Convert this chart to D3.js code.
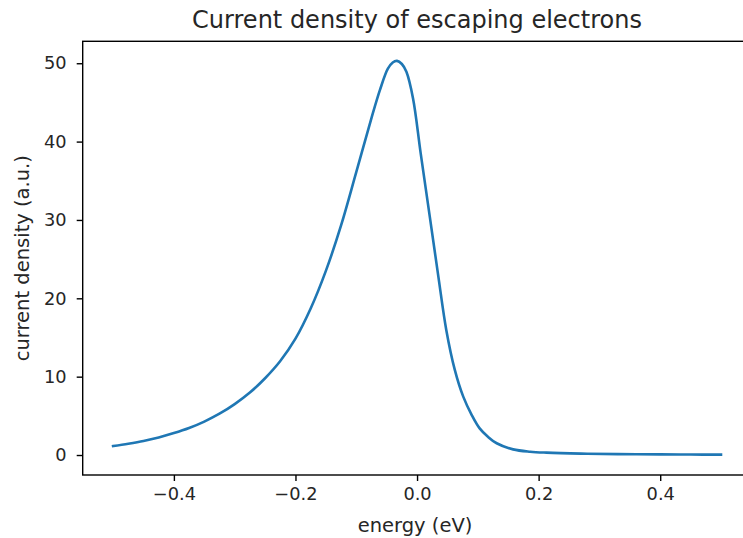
<!DOCTYPE html>
<html>
<head>
<meta charset="utf-8">
<script src="https://cdn.jsdelivr.net/npm/d3@7"></script>
<style>
  body { margin: 0; background: #fff; }
  text { font-family: "DejaVu Sans", sans-serif; fill: #262626; }
</style>
</head>
<body>
<script>
// energy in eV and current density in a.u.
var energy = [-0.5, -0.475, -0.45, -0.425, -0.4, -0.375, -0.35, -0.325, -0.3, -0.275,
  -0.25, -0.225, -0.2, -0.175, -0.15, -0.125, -0.1, -0.075, -0.061, -0.048,
  -0.04, -0.033, -0.025, -0.0175, -0.0066, 0.006, 0.021, 0.035, 0.048, 0.062,
  0.076, 0.09, 0.103, 0.117, 0.131, 0.158, 0.186, 0.213, 0.27, 0.33,
  0.4, 0.45, 0.5];
var density = [1.15, 1.45, 1.8, 2.25, 2.8, 3.45, 4.27, 5.27, 6.5, 7.97,
  9.8, 12.0, 14.85, 18.7, 23.5, 29.3, 36.1, 43.0, 46.6, 49.3,
  50.1, 50.3, 49.9, 48.9, 45.5, 38.5, 30.4, 22.8, 16.0, 10.9,
  7.45, 5.1, 3.4, 2.3, 1.5, 0.72, 0.42, 0.3, 0.18, 0.12,
  0.08, 0.06, 0.05];
var xTicks = [-0.4, -0.2, 0.0, 0.2, 0.4];
var yTicks = [0, 10, 20, 30, 40, 50];

var width = 743, height = 538;
// plot box (right edge falls outside the picture, as in the reference)
var boxLeft = 82.7, boxRight = 751.4, boxTop = 41.3, boxBottom = 475;

var svg = d3.select("body").append("svg")
  .attr("width", width).attr("height", height);

var x = d3.scaleLinear().domain([-0.55, 0.55]).range([boxLeft, boxRight]);
var y = d3.scaleLinear().domain([-2.55, 52.8]).range([boxBottom, boxTop]);

var points = energy.map(function(e, i){ return [e, density[i]]; });

// the curve
var line = d3.line()
  .x(function(d){ return x(d[0]); })
  .y(function(d){ return y(d[1]); })
  .curve(d3.curveCatmullRom.alpha(0.5));

svg.append("path")
  .datum(points)
  .attr("d", line)
  .attr("fill", "none")
  .attr("stroke", "#1f77b4")
  .attr("stroke-width", 2.6)
  .attr("stroke-linecap", "square");

// x axis
var xAxis = svg.append("g")
  .attr("transform", "translate(0," + boxBottom + ")")
  .call(d3.axisBottom(x).tickValues(xTicks).tickSize(6).tickPadding(6)
    .tickFormat(d3.format(".1f")));
xAxis.select(".domain").remove();
xAxis.selectAll("line").attr("stroke", "#000").attr("stroke-width", 1.4);
xAxis.selectAll("text").attr("font-size", "17.8px").attr("fill", "#262626")
  .attr("font-family", "DejaVu Sans");

// y axis
var yAxis = svg.append("g")
  .attr("transform", "translate(" + boxLeft + ",0)")
  .call(d3.axisLeft(y).tickValues(yTicks).tickSize(6).tickPadding(10));
yAxis.select(".domain").remove();
yAxis.selectAll("line").attr("stroke", "#000").attr("stroke-width", 1.4);
yAxis.selectAll("text").attr("font-size", "17.8px").attr("fill", "#262626")
  .attr("font-family", "DejaVu Sans");

// frame round the plot
svg.append("rect")
  .attr("x", boxLeft).attr("y", boxTop)
  .attr("width", boxRight - boxLeft).attr("height", boxBottom - boxTop)
  .attr("fill", "none")
  .attr("stroke", "#000")
  .attr("stroke-width", 1.4);

// labels
svg.append("text")
  .attr("x", (boxLeft + boxRight) / 2).attr("y", 28)
  .attr("text-anchor", "middle")
  .attr("font-size", "24px")
  .text("Current density of escaping electrons");

svg.append("text")
  .attr("x", 415).attr("y", 532)
  .attr("text-anchor", "middle")
  .attr("font-size", "19.5px")
  .text("energy (eV)");

svg.append("text")
  .attr("transform", "translate(29," + (boxTop + boxBottom) / 2 + ") rotate(-90)")
  .attr("text-anchor", "middle")
  .attr("font-size", "19.5px")
  .text("current density (a.u.)");
</script>
</body>
</html>
